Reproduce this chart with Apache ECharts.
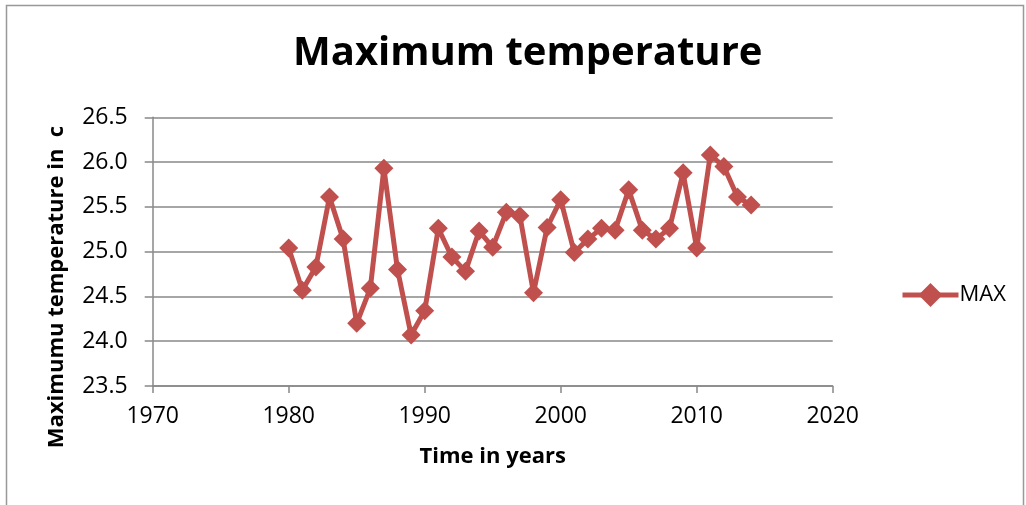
<!DOCTYPE html>
<html><head><meta charset="utf-8">
<script src="https://cdn.jsdelivr.net/npm/echarts@6/dist/echarts.min.js"></script>
<style>html,body{margin:0;padding:0;background:#fff}#c{width:1026px;height:505px}</style>
</head><body><div id="c"></div>
<script>
const years = [1980,1981,1982,1983,1984,1985,1986,1987,1988,1989,1990,1991,1992,1993,1994,1995,1996,1997,1998,1999,2000,2001,2002,2003,2004,2005,2006,2007,2008,2009,2010,2011,2012,2013,2014];
const maxTemp = [25.04,24.57,24.83,25.61,25.14,24.20,24.59,25.93,24.80,24.07,24.34,25.26,24.94,24.78,25.23,25.05,25.44,25.40,24.54,25.27,25.58,24.99,25.14,25.26,25.24,25.69,25.24,25.14,25.26,25.88,25.04,26.08,25.95,25.61,25.52];
const seriesName = 'MAX';
const titleText = 'Maximum temperature';
const xName = 'Time in years';
const yName = 'Maximumu temperature in  c';

const font = '"Open Sans", "Noto Sans", sans-serif';
const red = '#C0504D';
const chart = echarts.init(document.getElementById('c'), null, {renderer:'canvas'});
chart.setOption({
  animation:false,
  backgroundColor:'#fff',
  title:{text:titleText,left:293,top:34,padding:0,textStyle:{fontFamily:font,fontSize:40,fontWeight:'bold',color:'#000'}},
  grid:{left:152.7,right:193.3,top:117.3,bottom:119,containLabel:false},
  legend:{left:900,top:283,padding:0,orient:'vertical',itemWidth:56,itemHeight:30,itemGap:6,
    textStyle:{fontFamily:font,fontSize:22,color:'#000',padding:[0,0,0,-4]},
    data:[{name:seriesName,lineStyle:{width:5,color:red},itemStyle:{color:red}}]},
  xAxis:{type:'value',min:1970,max:2020,interval:10,
    name:xName,nameLocation:'middle',nameGap:60,
    nameTextStyle:{fontFamily:font,fontSize:22,fontWeight:'bold',color:'#000'},
    axisLine:{show:true,lineStyle:{color:'#888',width:1.5}},
    axisTick:{show:true,length:7,lineStyle:{color:'#888',width:1.5}},
    axisLabel:{fontFamily:font,fontSize:23,color:'#000',margin:19,formatter:v=>String(v)},
    splitLine:{show:false}},
  yAxis:{type:'value',min:23.5,max:26.5,interval:0.5,
    axisLine:{show:true,lineStyle:{color:'#888',width:1.5}},
    axisTick:{show:true,length:8,lineStyle:{color:'#888',width:1.5}},
    axisLabel:{fontFamily:font,fontSize:23,color:'#000',margin:25,formatter:v=>v.toFixed(1)},
    splitLine:{show:true,lineStyle:{color:'#888',width:1.5}}},
  graphic:[
    {type:'rect',shape:{x:6.5,y:5.5,width:1017,height:520},style:{fill:'none',stroke:'#999',lineWidth:1.5},silent:true},
    {type:'text',x:57,y:287,rotation:Math.PI/2,style:{text:yName,fontFamily:font,fontSize:22,fontWeight:'bold',fill:'#000',align:'center',verticalAlign:'middle'}}
  ],
  series:[{name:seriesName,type:'line',data:years.map((y,i)=>[y,maxTemp[i]]),
    symbol:'diamond',symbolSize:19,
    lineStyle:{color:red,width:5},itemStyle:{color:red}}]
});
</script></body></html>
